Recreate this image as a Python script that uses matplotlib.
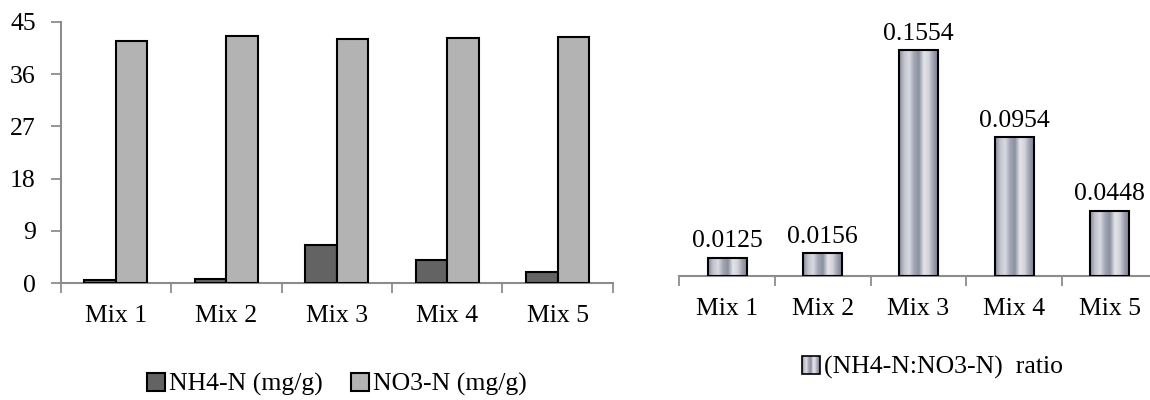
import numpy as np
import matplotlib
matplotlib.use('Agg')
import matplotlib.pyplot as plt
from matplotlib.colors import LinearSegmentedColormap
from matplotlib.legend_handler import HandlerBase
from matplotlib.image import BboxImage
from matplotlib.transforms import Bbox, TransformedBbox
from matplotlib.patches import Rectangle

# N fractions per mix
mixes = ['Mix 1', 'Mix 2', 'Mix 3', 'Mix 4', 'Mix 5']
nh4_n = [0.52, 0.66, 6.5, 4.0, 1.88]
no3_n = [41.8, 42.6, 42.0, 42.3, 42.5]
ratio = [0.0125, 0.0156, 0.1554, 0.0954, 0.0448]
ratio_labels = ['0.0125', '0.0156', '0.1554', '0.0954', '0.0448']
y_ticks = [0, 9, 18, 27, 36, 45]

plt.rcParams['font.family'] = ['Liberation Serif', 'DejaVu Serif']
plt.rcParams['font.size'] = 18.5

axis_grey = '#8c8c8c'
grad_cmap = LinearSegmentedColormap.from_list(
    'steel', ['#858a9b', '#c1c3cd', '#dadbe1', '#a2a6b4', '#8a8fa0',
              '#e4e5e9', '#d0d2d9', '#989cac', '#7a7f92'])
gradient = np.linspace(0, 1, 128).reshape(1, -1)


class GradientHandler(HandlerBase):
    def create_artists(self, legend, orig_handle, xdescent, ydescent,
                       width, height, fontsize, trans):
        bb = TransformedBbox(Bbox.from_bounds(-xdescent, -ydescent, width, height), trans)
        img = BboxImage(bb, cmap=grad_cmap, interpolation='bilinear')
        img.set_data(gradient)
        edge = Rectangle((-xdescent, -ydescent), width, height, facecolor='none',
                         edgecolor='black', linewidth=1.2, transform=trans)
        return [img, edge]


def style_axis(ax, pad):
    x = np.arange(len(mixes))
    ax.set_xlim(-0.5, len(mixes) - 0.5)
    ax.set_xticks(x)
    ax.set_xticklabels(mixes)
    ax.set_xticks(np.arange(len(mixes) + 1) - 0.5, minor=True)
    ax.tick_params(axis='x', which='major', length=0, pad=pad)
    ax.tick_params(axis='x', which='minor', length=7, width=1.3, color=axis_grey)
    for s in ['top', 'right']:
        ax.spines[s].set_visible(False)
    ax.spines['bottom'].set_color(axis_grey)
    ax.spines['bottom'].set_linewidth(1.5)


fig = plt.figure(figsize=(11.5, 4), dpi=100)

# left: NH4-N and NO3-N bars
ax1 = fig.add_axes([0.0528, 0.2925, 0.48, 0.6525])
x = np.arange(len(mixes))
w = 0.285
ax1.bar(x - w / 2, nh4_n, w, color='#636363', edgecolor='black', linewidth=1.5,
        label='NH4-N (mg/g)', zorder=3)
ax1.bar(x + w / 2, no3_n, w, color='#b3b3b3', edgecolor='black', linewidth=1.5,
        label='NO3-N (mg/g)', zorder=3)
style_axis(ax1, 15.5)
ax1.set_ylim(0, 45)
ax1.set_yticks(y_ticks)
ax1.spines['left'].set_color(axis_grey)
ax1.spines['left'].set_linewidth(1.5)
ax1.tick_params(axis='y', length=7, width=1.3, color=axis_grey, pad=11)
ax1.legend(loc='center', bbox_to_anchor=(0.5, -0.39), ncol=2, frameon=False,
           handlelength=0.7, handleheight=0.7, handletextpad=0.15,
           columnspacing=1.1, borderaxespad=0)

# right: ratio bars with shaded fill
ax2 = fig.add_axes([0.5907, 0.31, 0.416, 0.635])
w2 = 0.41
bars = ax2.bar(x, ratio, w2, facecolor='none', edgecolor='black', linewidth=1.5,
               zorder=3)
for b in bars:
    ax2.imshow(gradient, cmap=grad_cmap, aspect='auto', interpolation='bilinear',
               extent=(b.get_x(), b.get_x() + b.get_width(), 0, b.get_height()),
               zorder=2)
for xi, v, lab in zip(x, ratio, ratio_labels):
    ax2.annotate(lab, (xi, v), xytext=(0, 4), textcoords='offset points',
                 ha='center', va='bottom')
style_axis(ax2, 16)
ax2.set_ylim(0, 0.1747)
ax2.spines['left'].set_visible(False)
ax2.set_yticks([])
ax2.legend([bars], ['(NH4-N:NO3-N)  ratio'], handler_map={type(bars): GradientHandler()},
           loc='center', bbox_to_anchor=(0.53, -0.36), frameon=False,
           handlelength=0.7, handleheight=0.7, handletextpad=0.15, borderaxespad=0)

fig.savefig('out.png', dpi=100)
